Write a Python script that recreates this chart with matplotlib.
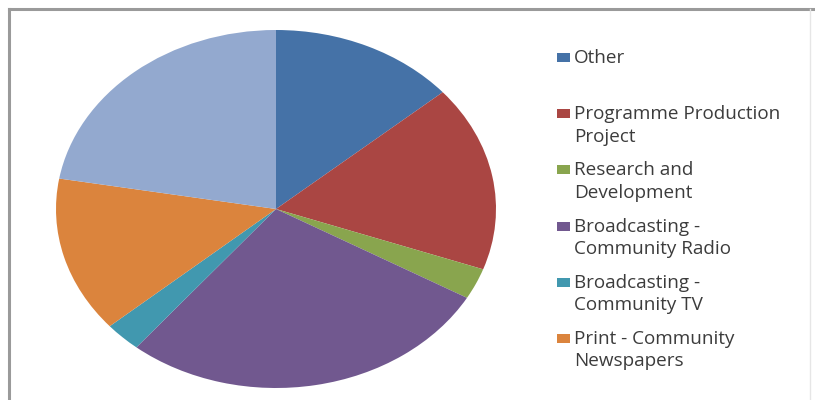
import matplotlib
matplotlib.use("Agg")
import matplotlib.pyplot as plt
from matplotlib.patches import Rectangle
from matplotlib.lines import Line2D

categories = ["Other", "Programme Production\nProject", "Research and\nDevelopment",
              "Broadcasting -\nCommunity Radio", "Broadcasting -\nCommunity TV",
              "Print - Community\nNewspapers", ""]
values = [13.7, 16.8, 2.8, 27.7, 2.7, 14.1, 22.3]
colors = ["#4572A7", "#AA4643", "#89A54E", "#71588F", "#4198AF", "#DB843D", "#93A9CF"]
legend_count = 6

W, H = 815, 400
fig = plt.figure(figsize=(W / 100, H / 100), dpi=100)
fig.patch.set_facecolor("white")

# outer chart frame
fig.add_artist(Line2D([8.5 / W, 8.5 / W], [0, 1 - 8.5 / H], color="#9a9a9a", lw=2.2))
fig.add_artist(Line2D([8.5 / W, 1], [1 - 8.5 / H, 1 - 8.5 / H], color="#9a9a9a", lw=2.2))
fig.add_artist(Line2D([810 / W, 810 / W], [0, 1 - 9 / H], color="#e6e6e6", lw=1))

# pie (elliptical)
left, right, top, bottom = 56, 496, 30, 388
ax = fig.add_axes([left / W, 1 - bottom / H, (right - left) / W, (bottom - top) / H])
ax.pie(values, colors=colors, startangle=90, counterclock=False,
       wedgeprops=dict(linewidth=0))
ax.set_aspect("auto")
ax.set_xlim(-1, 1)
ax.set_ylim(-1, 1)
ax.axis("off")

# legend (markers aligned to the first line, as in the reference)
plt.rcParams["font.family"] = ["Open Sans", "DejaVu Sans"]
y0 = 57.5
step = 56.2
line_gap = 22.5
for i in range(legend_count):
    y = y0 + i * step
    fig.add_artist(Rectangle((557 / W, 1 - (y + 4.5) / H), 13 / W, 9 / H,
                             facecolor=colors[i], edgecolor="none"))
    for j, line in enumerate(categories[i].split("\n")):
        fig.text(574 / W, 1 - (y + 5.5 + j * line_gap) / H, line, fontsize=13.6,
                 color="#3c3c3c", va="baseline", ha="left")

fig.savefig("out.png", dpi=100)
